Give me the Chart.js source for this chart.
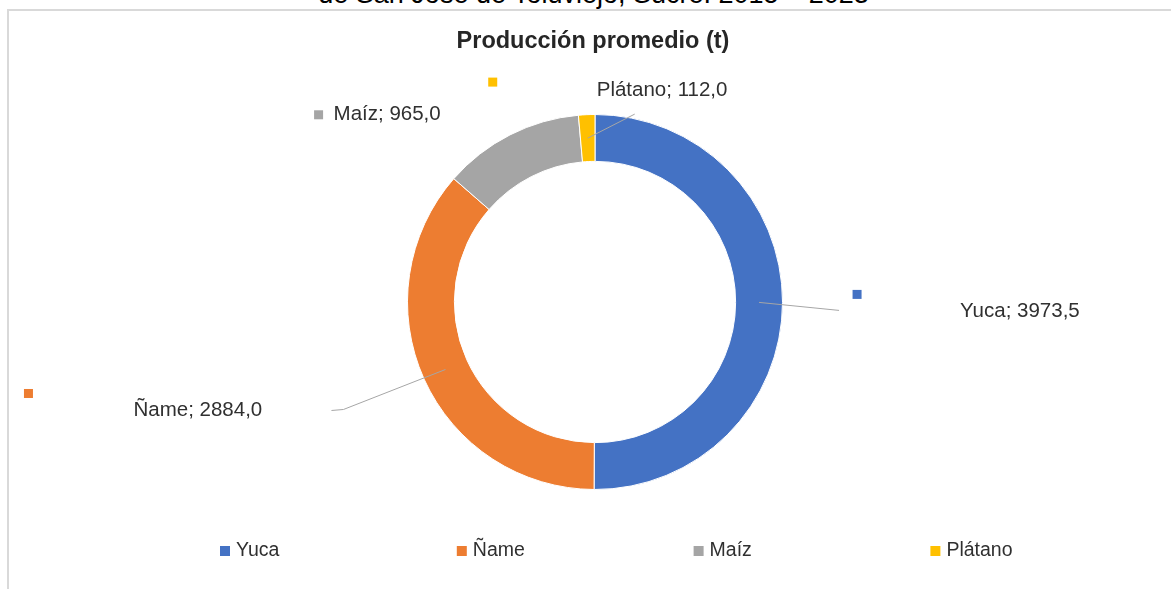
<!DOCTYPE html>
<html><head><meta charset="utf-8">
<script src="https://cdn.jsdelivr.net/npm/chart.js@4.4.0/dist/chart.umd.min.js"></script>
<style>
html,body{margin:0;padding:0;background:#fff;overflow:hidden;width:1171px;height:589px;}
#frame{position:absolute;left:7px;top:9px;width:1300px;height:700px;border-left:2px solid #d9d9d9;border-top:2px solid #d9d9d9;}
#caption{position:absolute;left:8px;width:1171px;top:-21px;text-align:center;font:27px "Liberation Sans",Arial,sans-serif;line-height:30px;color:#000;white-space:nowrap;}
canvas{position:absolute;left:0;top:0;}
</style></head><body>
<div id="caption">de San José de Toluviejo, Sucre. 2015 – 2023</div>
<div id="frame"></div>
<canvas id="c" width="1171" height="589"></canvas>
<script>
const chartTitle = 'Producción promedio (t)';
const categories = ['Yuca', 'Ñame', 'Maíz', 'Plátano'];
const production = [3973.5, 2884.0, 965.0, 112.0];
const colors = ['#4472C4', '#ED7D31', '#A5A5A5', '#FFC000'];

// label placement (style only): offsets relative to each arc's centroid
const labelLayout = [
  {line: [[80, 8]], key: [98, -8], text: [201, 9]},
  {line: [[-102, 40], [-114, 41]], key: [-417, 24], text: [-312, 41]},
  {line: [], key: [-202, -41], text: [-187, -41]},
  {line: [[47, -24]], key: [-95, -56], text: [9, -48]}
];
const FONT = '"Liberation Sans", Arial, sans-serif';
const fmt = v => v.toFixed(1).replace('.', ',');

const decor = {
  id: 'decor',
  afterDatasetsDraw(chart) {
    const ctx = chart.ctx;
    const meta = chart.getDatasetMeta(0);
    const ds = chart.data.datasets[0];
    ctx.save();
    // title
    ctx.fillStyle = '#262626';
    ctx.font = 'bold 23.5px ' + FONT;
    ctx.textAlign = 'center';
    ctx.textBaseline = 'middle';
    ctx.fillText(chartTitle, 593, 42);
    // data labels
    meta.data.forEach((el, i) => {
      const p = el.tooltipPosition();
      const L = labelLayout[i];
      if (L.line.length) {
        ctx.strokeStyle = '#a6a6a6';
        ctx.lineWidth = 1;
        ctx.beginPath();
        ctx.moveTo(p.x, p.y);
        L.line.forEach(o => ctx.lineTo(p.x + o[0], p.y + o[1]));
        ctx.stroke();
      }
      ctx.fillStyle = ds.backgroundColor[i];
      ctx.fillRect(p.x + L.key[0] - 4.5, p.y + L.key[1] - 4.5, 9, 9);
      ctx.fillStyle = '#303030';
      ctx.font = '20.5px ' + FONT;
      ctx.textAlign = 'left';
      ctx.textBaseline = 'middle';
      ctx.fillText(chart.data.labels[i] + '; ' + fmt(ds.data[i]), p.x + L.text[0], p.y + L.text[1]);
    });
    // legend
    chart.data.labels.forEach((lab, i) => {
      const x0 = 220 + i * 236.8;
      ctx.fillStyle = ds.backgroundColor[i];
      ctx.fillRect(x0, 546, 10, 10);
      ctx.fillStyle = '#303030';
      ctx.font = '19.5px ' + FONT;
      ctx.textAlign = 'left';
      ctx.textBaseline = 'middle';
      ctx.fillText(lab, x0 + 16, 551);
    });
    ctx.restore();
  }
};

new Chart(document.getElementById('c'), {
  type: 'doughnut',
  data: {
    labels: categories,
    datasets: [{
      data: production,
      backgroundColor: colors,
      borderColor: '#ffffff',
      borderWidth: 1
    }]
  },
  options: {
    responsive: false,
    animation: false,
    events: [],
    cutout: '75%',
    layout: {padding: {top: 114, bottom: 99, left: 19, right: 0}},
    plugins: {legend: {display: false}, title: {display: false}, tooltip: {enabled: false}}
  },
  plugins: [decor]
});
</script>
</body></html>
